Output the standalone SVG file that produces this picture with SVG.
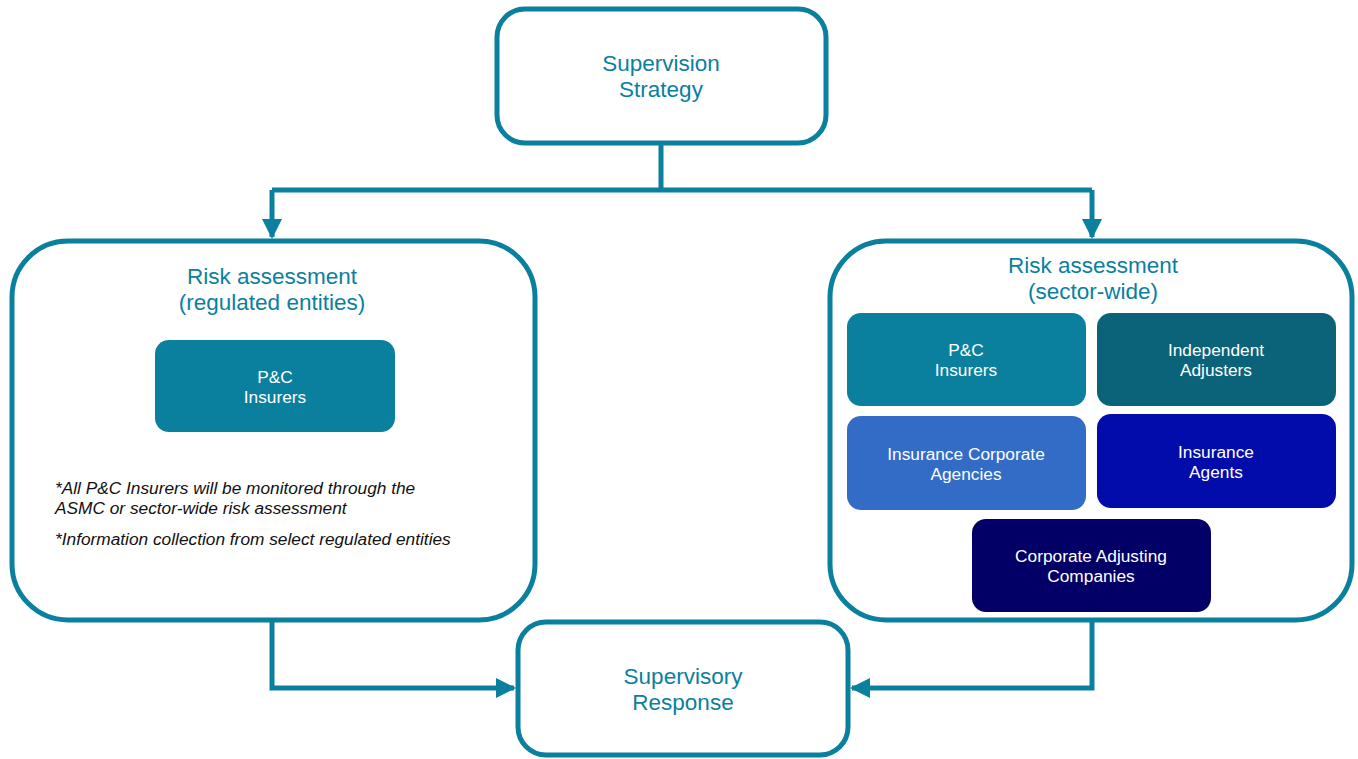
<svg xmlns="http://www.w3.org/2000/svg" width="1358" height="759" viewBox="0 0 1358 759">
<style>
.frame{fill:#fff;stroke:#0A809E;stroke-width:5}
.conn{fill:none;stroke:#0A809E;stroke-width:5}
.t{font-family:"Liberation Sans",Arial,sans-serif;font-size:22.5px;fill:#0A809E;text-anchor:middle}
.w{font-family:"Liberation Sans",Arial,sans-serif;font-size:17.3px;fill:#fff;text-anchor:middle}
.n{font-family:"Liberation Sans",Arial,sans-serif;font-size:17.3px;font-style:italic;fill:#111}
</style>
<defs>
<marker id="ah" viewBox="0 0 10 10" refX="9" refY="5" markerWidth="4" markerHeight="4" orient="auto" markerUnits="strokeWidth">
<path d="M0,0 L10,5 L0,10 z" fill="#0A809E"/>
</marker>
</defs>
<g id="connectors">
<path class="conn" d="M661,143 V190 M272,190 H1092"/>
<path class="conn" d="M272,190 V237" marker-end="url(#ah)"/>
<path class="conn" d="M1092,190 V237" marker-end="url(#ah)"/>
<path class="conn" d="M272,620 V688 H514" marker-end="url(#ah)"/>
<path class="conn" d="M1092,620 V688 H852" marker-end="url(#ah)"/>
</g>
<g id="supervision-strategy">
<rect class="frame" x="497" y="9" width="329" height="134" rx="28"/>
<text class="t" x="661" y="71">Supervision</text>
<text class="t" x="661" y="97">Strategy</text>
</g>
<g id="risk-regulated">
<rect class="frame" x="12" y="241" width="523" height="379" rx="56"/>
<text class="t" x="272" y="284">Risk assessment</text>
<text class="t" x="272" y="310">(regulated entities)</text>
</g>
<g id="pc-insurers-left">
<rect x="155" y="340" width="240" height="92" rx="14" fill="#0A809E"/>
<text class="w" x="275" y="383">P&amp;C</text>
<text class="w" x="275" y="403">Insurers</text>
</g>
<g id="notes">
<text class="n" x="55" y="494">*All P&amp;C Insurers will be monitored through the</text>
<text class="n" x="55" y="514">ASMC or sector-wide risk assessment</text>
<text class="n" x="55" y="545">*Information collection from select regulated entities</text>
</g>
<g id="risk-sector">
<rect class="frame" x="830" y="241" width="522" height="379" rx="56"/>
<text class="t" x="1093" y="273">Risk assessment</text>
<text class="t" x="1093" y="299">(sector-wide)</text>
</g>
<g id="pc-insurers-right">
<rect x="847" y="313" width="239" height="93" rx="14" fill="#0A809E"/>
<text class="w" x="966" y="356">P&amp;C</text>
<text class="w" x="966" y="376">Insurers</text>
</g>
<g id="independent-adjusters">
<rect x="1097" y="313" width="239" height="93" rx="14" fill="#0A6378"/>
<text class="w" x="1216" y="356">Independent</text>
<text class="w" x="1216" y="376">Adjusters</text>
</g>
<g id="insurance-corporate-agencies">
<rect x="847" y="416" width="239" height="94" rx="14" fill="#336CC6"/>
<text class="w" x="966" y="460">Insurance Corporate</text>
<text class="w" x="966" y="480">Agencies</text>
</g>
<g id="insurance-agents">
<rect x="1097" y="414" width="239" height="94" rx="14" fill="#020CAA"/>
<text class="w" x="1216" y="458">Insurance</text>
<text class="w" x="1216" y="478">Agents</text>
</g>
<g id="corporate-adjusting">
<rect x="972" y="519" width="239" height="93" rx="14" fill="#020066"/>
<text class="w" x="1091" y="562">Corporate Adjusting</text>
<text class="w" x="1091" y="582">Companies</text>
</g>
<g id="supervisory-response">
<rect class="frame" x="518" y="622" width="330" height="133" rx="28"/>
<text class="t" x="683" y="684">Supervisory</text>
<text class="t" x="683" y="710">Response</text>
</g>
</svg>
